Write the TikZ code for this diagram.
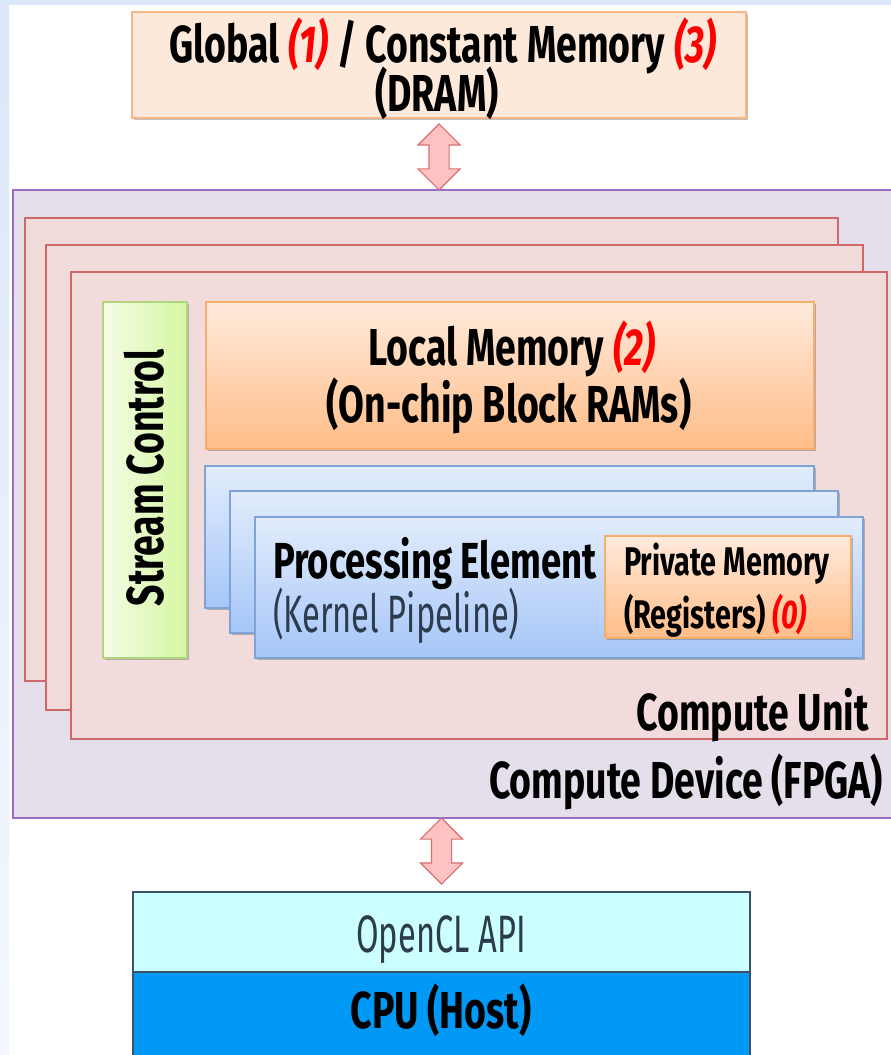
\documentclass[tikz,border=0pt]{standalone}
\usepackage{fontspec}
\setmainfont{Fira Sans}[FakeStretch=0.72]
\newfontfamily\thinface{Fira Sans}[FakeStretch=0.62]
\usetikzlibrary{shapes.arrows,shadows,fit,calc}

\definecolor{bgblue}{HTML}{DCE7F8}
\definecolor{bgblue2}{HTML}{F4F7FD}
\definecolor{gmfill}{HTML}{FDE9DA}
\definecolor{gmdraw}{HTML}{F5B587}
\definecolor{arrfill}{HTML}{FFC2C2}
\definecolor{arrdraw}{HTML}{DB6E6E}
\definecolor{devfill}{HTML}{E5DFEB}
\definecolor{devdraw}{HTML}{9B6CC4}
\definecolor{cufill}{HTML}{F2DCDB}
\definecolor{cudraw}{HTML}{CF6868}
\definecolor{sclight}{HTML}{F3FCE6}
\definecolor{scdark}{HTML}{D6F7A2}
\definecolor{scdraw}{HTML}{B0D57E}
\definecolor{lmtop}{HTML}{FFEADC}
\definecolor{lmbot}{HTML}{FFBD88}
\definecolor{lmdraw}{HTML}{F5AE6E}
\definecolor{petop}{HTML}{E2ECFC}
\definecolor{pebot}{HTML}{A5C6F8}
\definecolor{pedraw}{HTML}{7FA3D6}
\definecolor{apifill}{HTML}{CCFFFF}
\definecolor{hostfill}{HTML}{0099F6}
\definecolor{hostdraw}{HTML}{3D5168}
\definecolor{numred}{HTML}{FF0000}
\definecolor{softtext}{HTML}{2C3B4E}

\newcommand\lblbig{\fontsize{39}{46}\selectfont\bfseries}
\newcommand\lblpe{\fontsize{38}{44}\selectfont\bfseries}
\newcommand\lblthin{\thinface\fontsize{39.5}{46}\selectfont}
\newcommand\lblpm{\fontsize{30}{34}\selectfont\bfseries}
\newcommand\numtag[1]{{\color{numred}\itshape #1}}

\tikzset{
  region/.style={inner sep=0pt, outer sep=0pt},
  shadowed/.style={drop shadow={shadow xshift=1.5pt, shadow yshift=-1.8pt, opacity=0.35, fill=black!70}},
  globalbox/.style={region, shadowed, fill=gmfill, draw=gmdraw, line width=0.9pt},
  devbox/.style={region, fill=devfill, draw=devdraw, line width=1.6pt},
  cubox/.style={region, fill=cufill, draw=cudraw, line width=1.1pt},
  scbox/.style={region, shadowed, left color=sclight, right color=scdark, draw=scdraw, line width=0.8pt},
  lmbox/.style={region, shadowed, top color=lmtop, bottom color=lmbot, draw=lmdraw, line width=0.8pt},
  pebox/.style={region, shadowed, top color=petop, bottom color=pebot, draw=pedraw, line width=0.8pt},
  pmbox/.style={region, shadowed, top color=lmtop, bottom color=lmbot, draw=lmdraw, line width=0.8pt},
  apibox/.style={region, fill=apifill, draw=hostdraw, line width=0.9pt},
  hostbox/.style={region, fill=hostfill, draw=hostdraw, line width=0.9pt},
  linkarrow/.style={double arrow, rotate=90, inner xsep=0pt, inner ysep=9.5*0.75pt, outer sep=0pt,
    minimum height=66*0.75pt,
    double arrow head extend=11*0.75pt,
    fill=arrfill, draw=arrdraw, line width=0.8pt},
  label/.style={inner sep=0pt, outer sep=0pt, text=black},
}

\begin{document}
\begin{tikzpicture}[x=0.75pt,y=-0.75pt]
\useasboundingbox (0,0) rectangle (891,1055);
\clip (0,0) rectangle (891,1055);

% backdrop
\fill[white] (0,0) rectangle (891,1055);
\shade[top color=bgblue, bottom color=bgblue2] (0,0) rectangle (9,1055);
\fill[bgblue] (0,0) rectangle (891,5);

% global / constant memory
\node[globalbox, fit={(132,12) (746,118)}] (global) {};
\node[label, anchor=base] (globaltxt) at (443,63)
  {\lblbig Global \numtag{(1)} / Constant Memory \numtag{(3)}};
\node[label, anchor=base] (dramtxt) at (437,112) {\lblbig (DRAM)};

% compute device
\node[devbox, fit={(13,190) (905,818)}] (fpga) {};

% stacked compute units
\node[cubox, fit={(25,218) (838,681)}] (cu1) {};
\node[cubox, fit={(46,245) (863,710)}] (cu2) {};
\node[cubox, fit={(71,272) (887,739)}] (cu3) {};

% stream control
\node[scbox, fit={(103,302) (187,658)}] (sc) {};
\node[label, rotate=90, anchor=base] (sctxt) at (163,478) {\lblbig Stream Control};

% local memory
\node[lmbox, fit={(206,302) (814,449)}] (lm) {};
\node[label, anchor=base] (lmtxt) at (512,365) {\lblbig Local Memory \numtag{(2)}};
\node[label, anchor=base] (lmtxt2) at (509,422) {\lblbig (On-chip Block RAMs)};

% stacked processing elements
\node[pebox, fit={(205,466) (814,608)}] (pe1) {};
\node[pebox, fit={(230,491) (838,633)}] (pe2) {};
\node[pebox, fit={(255,517) (863,658)}] (pe3) {};
\node[label, anchor=base west] (petxt) at (273,578) {\lblpe Processing Element};
\node[label, anchor=base west, text=softtext] (petxt2) at (273,632) {\lblthin (Kernel Pipeline)};

% private memory
\node[pmbox, fit={(605,536) (851,638)}] (pm) {};
\node[label, anchor=base west] (pmtxt) at (624,575) {\lblpm Private Memory};
\node[label, anchor=base west] (pmtxt2) at (624,628) {\lblpm (Registers) \numtag{(0)}};

% unit and device captions
\node[label, anchor=base east] (cutxt) at (869,730) {\lblbig Compute Unit};
\node[label, anchor=base east] (devtxt) at (883,798) {\lblbig Compute Device (FPGA)};

% host side
\node[apibox, fit={(133,892) (750,972)}] (api) {};
\node[hostbox, fit={(133,972) (750,1075)}] (host) {};
\node[label, anchor=base, text=softtext] (apitxt) at (441,952) {\lblthin OpenCL API};
\node[label, anchor=base] (hosttxt) at (441,1028) {\lblbig CPU (Host)};

% bidirectional links
\node[linkarrow, anchor=west] (link1) at (global.south |- fpga.north) {};
\node[linkarrow, anchor=east] (link2) at (api.north |- fpga.south) {};
\end{tikzpicture}
\end{document}
